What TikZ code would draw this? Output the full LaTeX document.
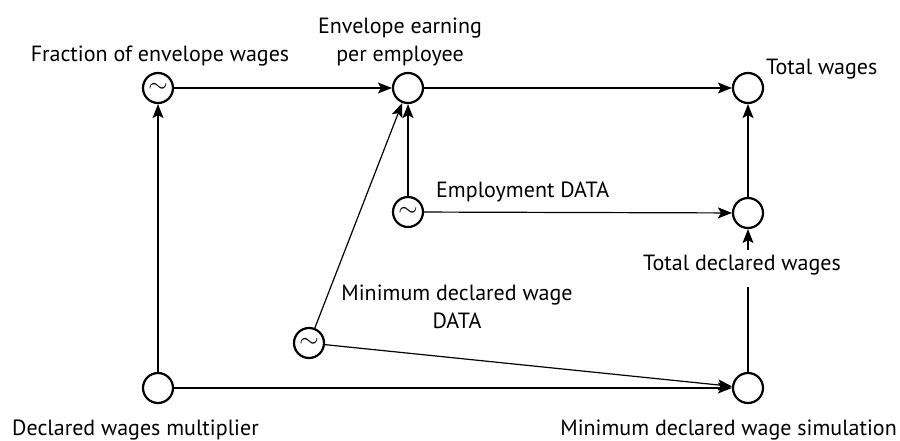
\documentclass[tikz,border=0pt]{standalone}
\usepackage{fontspec}
\setmainfont{PT Sans}
\usetikzlibrary{arrows.meta}
\begin{document}
\begin{tikzpicture}[x=1pt,y=-1pt,
  font=\fontsize{22}{26}\selectfont,
  stock/.style={circle,draw,line width=2.2pt,minimum size=30pt,inner sep=0pt},
  tld/.style={stock,font=\fontsize{26}{26}\selectfont},
  lbl/.style={anchor=base,inner sep=0pt},
  conn/.style={line width=1.2pt,-{Stealth[length=14pt,width=11pt,inset=3pt]}},
  plain/.style={line width=1.2pt}]
\useasboundingbox (0,0) rectangle (900,441);
% nodes
\node[tld] (frac) at (158,88) {$\sim$};
\node[stock] (env)  at (408,88) {};
\node[stock] (tw)   at (748,88) {};
\node[tld] (emp)  at (408,212) {$\sim$};
\node[stock] (tdw)  at (748,213) {};
\node[tld] (mint) at (309,343) {$\sim$};
\node[stock] (mult) at (158,388) {};
\node[stock] (sim)  at (748,388) {};
% labels
\node[lbl] (fracl) at (160,62) {Fraction of envelope wages};
\node[lbl] (envl1) at (400,34) {Envelope earning};
\node[lbl] (envl2) at (400,62) {per employee};
\node[lbl,anchor=base west] (twl) at (766,75) {Total wages};
\node[lbl,anchor=base west] (empl) at (436,197) {Employment DATA};
\node[lbl,inner ysep=4pt] (tdwl) at (742,270) {Total declared wages};
\node[lbl] (mintl1) at (457,300) {Minimum declared wage};
\node[lbl] (mintl2) at (457,328) {DATA};
\node[lbl,anchor=base west] (multl) at (12,435) {Declared wages multiplier};
\node[lbl,anchor=base east] (siml) at (897,435) {Minimum declared wage simulation};
% connectors
\draw[conn] (frac) -- (env);
\draw[conn] (env) -- (tw);
\draw[conn] (mult) -- (frac);
\draw[conn] (mult) -- (sim);
\draw[conn] (mint) -- (sim);
\draw[conn] (mint) -- (env);
\draw[conn] (emp) -- (env);
\draw[conn] (emp) -- (tdw);
\draw[conn] (tdw) -- (tw);
\draw[plain,shorten >=8pt] (sim) -- (tdwl.south -| sim);
\draw[conn] (tdwl.north -| tdw) -- (tdw);
\end{tikzpicture}
\end{document}
